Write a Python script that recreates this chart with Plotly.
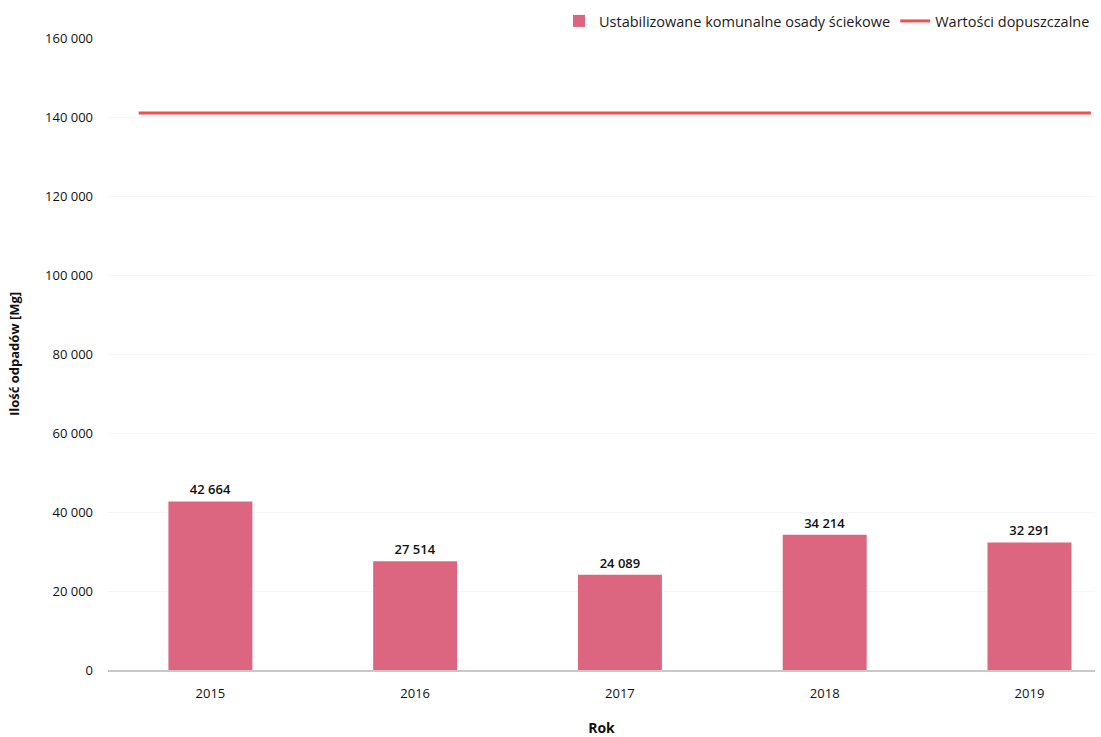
import plotly.graph_objects as go

# Annual quantities of stabilised municipal sewage sludge [Mg]
years = ["2015", "2016", "2017", "2018", "2019"]
sludge_mg = [42664, 27514, 24089, 34214, 32291]
limit_mg = 141000
limit_span = [-0.35, 4.3]

positions = list(range(len(years)))
font_family = "Open Sans, Noto Sans, sans-serif"

fig = go.Figure()

fig.add_trace(go.Bar(
    x=positions,
    y=sludge_mg,
    width=0.41,
    name="Ustabilizowane komunalne osady ściekowe",
    marker=dict(color="#dc6580", line=dict(width=0)),
    text=[f"{v:,}".replace(",", " ") for v in sludge_mg],
    textposition="outside",
    textfont=dict(size=13, color="#111111", family=font_family, weight=600),
    cliponaxis=False,
))

fig.add_trace(go.Scatter(
    x=limit_span,
    y=[limit_mg, limit_mg],
    mode="lines",
    name="Wartości dopuszczalne",
    line=dict(color="#f04f4f", width=3),
))

fig.update_layout(
    width=1101,
    height=737,
    margin=dict(l=108, r=6, t=37, b=67),
    paper_bgcolor="white",
    plot_bgcolor="white",
    separators=", ",
    font=dict(family=font_family, size=13, color="#111111"),
    bargap=0.6,
    legend=dict(
        orientation="h",
        x=1.0, xanchor="right",
        y=1.0, yanchor="bottom",
        font=dict(size=14.5, color="#1a1a1a"),
        itemwidth=30,
        tracegroupgap=0,
        bgcolor="rgba(0,0,0,0)",
    ),
    xaxis=dict(
        range=[-0.5, 4.32],
        tickmode="array",
        tickvals=positions,
        ticktext=years,
        showgrid=False,
        showline=True,
        linecolor="#c8c8c8",
        linewidth=2,
        ticks="",
        ticklabelstandoff=10,
        tickfont=dict(size=13),
        title=dict(text="<b>Rok</b>", font=dict(size=14), standoff=26),
        zeroline=False,
        automargin=False,
    ),
    yaxis=dict(
        range=[0, 160000],
        tickvals=[0, 20000, 40000, 60000, 80000, 100000, 120000, 140000, 160000],
        tickformat=",d",
        showgrid=True,
        gridcolor="#f6f6f6",
        zeroline=False,
        ticks="",
        ticklabelstandoff=14,
        tickfont=dict(size=13),
        title=dict(text="<b>Ilość odpadów [Mg]</b>", font=dict(size=13), standoff=22),
        automargin=False,
    ),
)

fig.write_html("out.html")
